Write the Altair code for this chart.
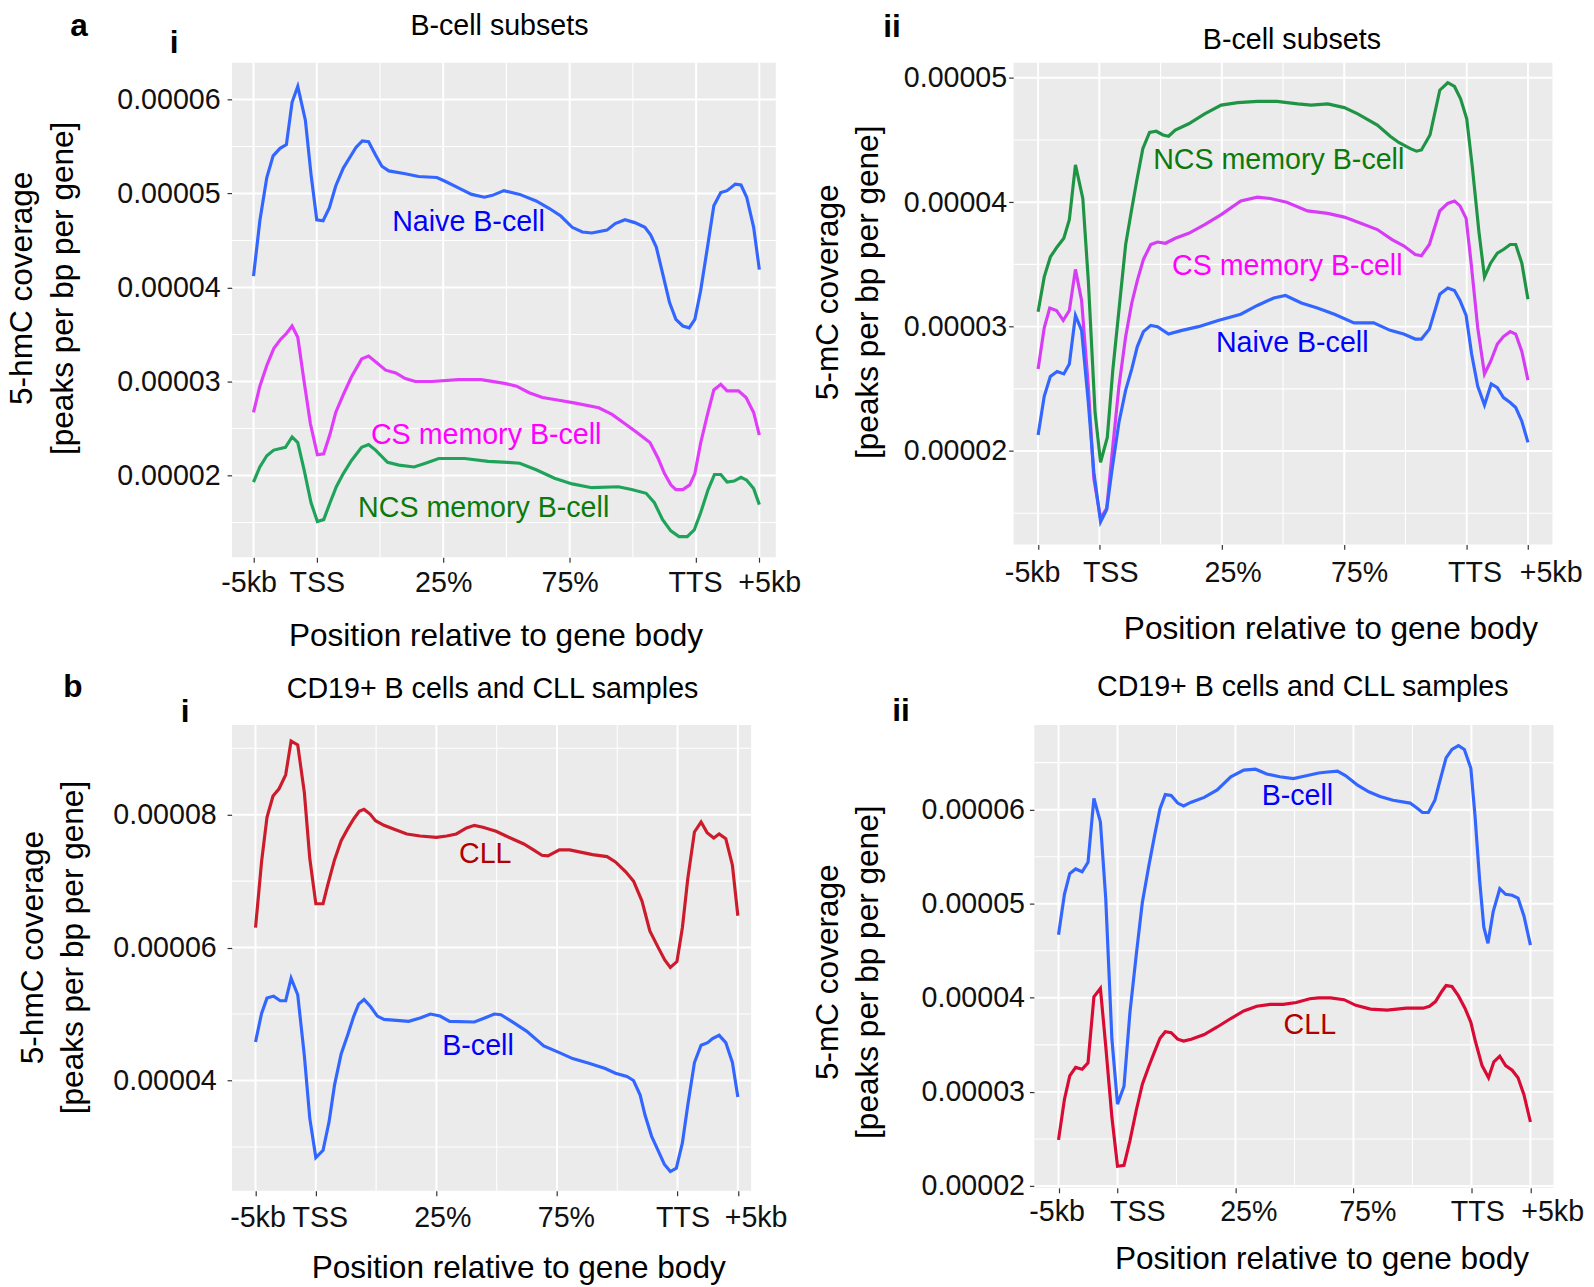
import altair as alt
import pandas as pd

FONT = "Liberation Sans"
SCALE = 1e-5  # values below are in units of 1e-5

x_ticks = [0, 10, 30, 50, 70, 80]
x_tick_labels = ["-5kb", "TSS", "25%", "75%", "TTS", "+5kb"]
x_minor = [20, 40, 60]
x_title = "Position relative to gene body"

# ---------------- panel a-i (5-hmC, B-cell subsets) ----------------
ai_naive_x = [0, 1, 2.1, 3.1, 4.2, 5.2, 6.1, 7.0, 8.2, 9.1, 10, 11, 12, 13, 14.2, 15.2, 16.2, 17.2, 18.2, 19.3, 20.3, 21.4, 24, 26.1, 29, 30.3, 32.4, 34.5, 36.5, 37.8, 39.6, 42.1, 44.7, 46.8, 48.6, 50.4, 52, 53.5, 55.9, 57.2, 58.75, 60.3, 61.9, 62.8, 63.7, 64.7, 65.8, 66.8, 67.9, 68.9, 69.8, 70.7, 71.8, 72.8, 73.9, 74.9, 76.2, 77.1, 78.0, 79.1, 80]
ai_naive_y = [4.12, 4.71, 5.17, 5.40, 5.48, 5.52, 5.97, 6.14, 5.78, 5.20, 4.72, 4.71, 4.85, 5.08, 5.27, 5.38, 5.49, 5.56, 5.55, 5.41, 5.29, 5.24, 5.21, 5.18, 5.17, 5.13, 5.06, 4.99, 4.96, 4.98, 5.03, 4.99, 4.92, 4.84, 4.76, 4.64, 4.59, 4.58, 4.61, 4.68, 4.72, 4.69, 4.64, 4.56, 4.43, 4.15, 3.84, 3.66, 3.59, 3.57, 3.66, 3.96, 4.43, 4.87, 5.01, 5.03, 5.10, 5.09, 4.96, 4.64, 4.19]
ai_cs_x = [0, 1, 2.1, 3.2, 4.3, 5.2, 6.1, 7.0, 8.0, 9.0, 10.1, 11.1, 12.1, 13, 14.2, 15.5, 17.1, 18.2, 19.3, 20.9, 22.5, 24, 25.6, 28.2, 32.4, 36, 39.7, 41.6, 43.6, 45.7, 48.3, 50.9, 54.6, 56.7, 58.75, 60.8, 62.7, 64, 65, 66, 66.8, 67.9, 69, 69.8, 70.7, 71.8, 72.8, 73.9, 74.9, 76.7, 77.9, 79.1, 80]
ai_cs_y = [2.67, 2.95, 3.17, 3.35, 3.45, 3.51, 3.59, 3.47, 3.00, 2.55, 2.22, 2.23, 2.44, 2.67, 2.86, 3.05, 3.24, 3.27, 3.21, 3.12, 3.09, 3.03, 3.00, 3.00, 3.02, 3.02, 2.98, 2.95, 2.88, 2.83, 2.80, 2.77, 2.72, 2.65, 2.55, 2.45, 2.35, 2.18, 2.02, 1.90, 1.85, 1.85, 1.90, 2.02, 2.34, 2.65, 2.91, 2.97, 2.90, 2.90, 2.83, 2.67, 2.43]
ai_ncs_x = [0, 1, 2.1, 3.2, 5.05, 6.1, 7.0, 8.0, 9.1, 10.1, 11.1, 12.1, 13.1, 14.2, 15.5, 17.1, 18.2, 19.3, 21.2, 23, 25.4, 27.2, 29.3, 33.4, 37.1, 40.2, 42.1, 44.7, 47.6, 50.4, 53.5, 57.7, 59.8, 62.1, 63.4, 64.7, 66, 67.3, 68.6, 69.7, 70.7, 71.9, 72.9, 73.9, 74.9, 76, 77.1, 78, 79.1, 80]
ai_ncs_y = [1.93, 2.09, 2.21, 2.27, 2.30, 2.41, 2.35, 2.06, 1.71, 1.51, 1.53, 1.71, 1.88, 2.02, 2.16, 2.30, 2.33, 2.27, 2.14, 2.11, 2.09, 2.13, 2.18, 2.18, 2.15, 2.14, 2.13, 2.06, 1.97, 1.91, 1.87, 1.88, 1.85, 1.81, 1.71, 1.53, 1.41, 1.35, 1.35, 1.42, 1.60, 1.85, 2.01, 2.01, 1.93, 1.94, 1.98, 1.95, 1.86, 1.69]

# ---------------- panel a-ii (5-mC, B-cell subsets) ----------------
aii_ncs_x = [0, 1, 2, 3.1, 4.2, 5.1, 6.1, 7.3, 8.2, 9.3, 10.2, 11.3, 12.2, 13.3, 14.3, 15.2, 16.1, 17.1, 18.2, 19.3, 20.4, 21.3, 22.4, 24.6, 27.2, 29.9, 32.6, 35.8, 39, 42.4, 44.6, 47.3, 50, 52.2, 55.4, 57.5, 58.9, 60.8, 61.8, 62.6, 64, 65.6, 66.9, 68, 69, 70, 70.9, 72, 72.9, 73.9, 75, 76, 77.1, 78, 79, 80]
aii_ncs_y = [3.12, 3.40, 3.56, 3.64, 3.71, 3.86, 4.30, 4.03, 3.37, 2.31, 1.91, 2.11, 2.65, 3.18, 3.66, 3.92, 4.17, 4.43, 4.56, 4.57, 4.54, 4.53, 4.58, 4.63, 4.71, 4.78, 4.80, 4.81, 4.81, 4.79, 4.78, 4.79, 4.76, 4.71, 4.62, 4.53, 4.48, 4.43, 4.41, 4.42, 4.54, 4.90, 4.96, 4.93, 4.83, 4.67, 4.29, 3.76, 3.40, 3.51, 3.59, 3.62, 3.66, 3.66, 3.51, 3.22]
aii_cs_x = [0, 1, 1.9, 3.0, 4.1, 5.1, 6.1, 7.1, 8.2, 9.1, 10.2, 11.2, 12.1, 13.2, 14.3, 15.3, 16.2, 17.2, 18.4, 19.5, 20.8, 22.4, 24.6, 27.2, 29.9, 33.1, 35.8, 37.9, 40.6, 44, 47.3, 50, 52.7, 55.4, 57.8, 59.7, 61.6, 62.6, 63.9, 65.6, 66.9, 68, 68.9, 69.9, 70.7, 71.8, 72.9, 73.9, 75, 76, 77.1, 78, 79, 80]
aii_cs_y = [2.66, 2.99, 3.15, 3.13, 3.05, 3.13, 3.46, 3.21, 2.52, 1.78, 1.46, 1.54, 1.99, 2.52, 2.92, 3.19, 3.37, 3.54, 3.66, 3.68, 3.67, 3.71, 3.75, 3.82, 3.90, 4.01, 4.04, 4.03, 4.00, 3.93, 3.91, 3.88, 3.83, 3.78, 3.70, 3.65, 3.58, 3.57, 3.66, 3.93, 3.99, 4.01, 3.97, 3.87, 3.52, 2.99, 2.62, 2.72, 2.86, 2.92, 2.96, 2.94, 2.80, 2.57]
aii_naive_x = [0, 1, 2, 3.1, 4.2, 5.1, 6.1, 7.1, 8.2, 9.1, 10.2, 11.2, 12.1, 13.2, 14.3, 15.3, 16.2, 17.2, 18.4, 19.5, 21.3, 23.5, 26.2, 29.4, 33.1, 35.8, 38.5, 40.4, 43, 45.6, 48.4, 51.6, 54.8, 57.5, 59.7, 61.6, 62.6, 63.9, 65.6, 66.9, 68, 68.9, 69.9, 70.8, 71.8, 72.9, 74, 75, 76, 77.1, 78, 79, 80]
aii_naive_y = [2.13, 2.44, 2.60, 2.64, 2.62, 2.70, 3.09, 2.97, 2.39, 1.83, 1.43, 1.53, 1.86, 2.23, 2.49, 2.66, 2.84, 2.96, 3.01, 3.00, 2.94, 2.97, 3.00, 3.05, 3.10, 3.17, 3.23, 3.25, 3.19, 3.15, 3.10, 3.03, 3.03, 2.97, 2.94, 2.90, 2.90, 2.98, 3.26, 3.31, 3.29, 3.21, 3.09, 2.78, 2.52, 2.37, 2.54, 2.51, 2.43, 2.39, 2.35, 2.24, 2.07]

# ---------------- panel b-i (5-hmC, CD19+ B cells and CLL) ----------------
bi_cll_x = [0, 1, 1.9, 2.9, 3.9, 5.0, 5.9, 7.0, 8.1, 9.0, 10, 11.2, 12, 13.1, 14.2, 15.3, 16.3, 17.2, 18, 19, 19.9, 21.3, 23, 25.1, 27.3, 30, 31.7, 33.3, 35, 36.3, 37.7, 39.9, 42, 44.5, 46.1, 47.5, 48.5, 50.4, 52.1, 53.7, 55.9, 58.3, 59.7, 61.4, 62.7, 64.1, 65.4, 66.8, 67.9, 68.8, 69.9, 70.8, 71.7, 72.8, 73.9, 74.9, 76, 76.9, 78, 79.1, 80]
bi_cll_y = [6.30, 7.29, 7.96, 8.28, 8.39, 8.60, 9.11, 9.05, 8.33, 7.34, 6.66, 6.66, 6.95, 7.32, 7.61, 7.79, 7.94, 8.05, 8.08, 8.01, 7.91, 7.84, 7.78, 7.71, 7.68, 7.66, 7.68, 7.71, 7.80, 7.84, 7.81, 7.75, 7.66, 7.56, 7.47, 7.39, 7.38, 7.47, 7.47, 7.44, 7.40, 7.37, 7.29, 7.14, 7.00, 6.70, 6.25, 6.00, 5.81, 5.70, 5.79, 6.30, 7.04, 7.74, 7.89, 7.73, 7.65, 7.71, 7.64, 7.24, 6.48]
bi_bcell_x = [0, 1, 1.9, 3.0, 4.1, 5.0, 5.9, 7.0, 8.1, 9.0, 10, 11.2, 12.2, 13.1, 14.2, 15.3, 16.3, 17.1, 18, 19.1, 20.2, 21.3, 25.4, 27.3, 29, 30.6, 32.2, 36.3, 38, 39.6, 40.7, 42.8, 45, 47.8, 50.4, 52.6, 55.3, 58, 59.7, 61.6, 62.7, 63.8, 64.6, 65.7, 66.8, 67.8, 68.8, 69.8, 70.8, 71.7, 72.8, 73.9, 75, 75.8, 76.9, 78, 79.1, 80]
bi_bcell_y = [4.58, 5.01, 5.24, 5.27, 5.20, 5.20, 5.54, 5.29, 4.37, 3.43, 2.84, 2.95, 3.38, 3.93, 4.40, 4.69, 4.97, 5.15, 5.22, 5.11, 4.97, 4.92, 4.89, 4.94, 5.00, 4.97, 4.89, 4.88, 4.94, 5.00, 4.99, 4.87, 4.74, 4.52, 4.42, 4.33, 4.26, 4.18, 4.11, 4.06, 4.00, 3.78, 3.48, 3.16, 2.94, 2.74, 2.63, 2.68, 3.06, 3.63, 4.27, 4.53, 4.57, 4.63, 4.68, 4.57, 4.27, 3.75]

# ---------------- panel b-ii (5-mC, CD19+ B cells and CLL) ----------------
bii_bcell_x = [0, 1, 1.9, 2.9, 4.0, 5.0, 6.0, 7.1, 8.0, 9.05, 10, 11.1, 12.1, 13.2, 14.2, 15.3, 16.3, 17.2, 18.1, 19.1, 20.2, 21.2, 22.5, 24.7, 26.9, 29.2, 31.4, 33.4, 35.3, 37.5, 39.8, 42, 44.1, 45.6, 47.3, 48.7, 50.7, 52.6, 54.5, 56.7, 59.6, 60.7, 61.7, 62.7, 63.8, 64.8, 65.7, 66.7, 67.8, 68.8, 69.9, 70.6, 71.4, 72.1, 72.8, 73.7, 74.8, 75.8, 76.9, 77.9, 78.9, 80]
bii_bcell_y = [4.67, 5.10, 5.32, 5.37, 5.34, 5.44, 6.12, 5.87, 5.06, 3.56, 2.87, 3.06, 3.84, 4.47, 5.01, 5.40, 5.73, 6.01, 6.16, 6.15, 6.07, 6.04, 6.08, 6.13, 6.21, 6.35, 6.42, 6.43, 6.38, 6.35, 6.33, 6.36, 6.39, 6.40, 6.41, 6.36, 6.26, 6.19, 6.14, 6.10, 6.07, 6.02, 5.97, 5.97, 6.10, 6.34, 6.55, 6.64, 6.68, 6.64, 6.44, 5.94, 5.24, 4.75, 4.58, 4.92, 5.16, 5.10, 5.09, 5.06, 4.87, 4.56]
bii_cll_x = [0, 1, 1.9, 2.9, 4.0, 5.0, 6.0, 7.1, 8.0, 9.05, 10, 11.1, 12.1, 13.2, 14.2, 15.3, 16.3, 17.2, 18.1, 19.1, 20.2, 21.2, 22.5, 24.7, 26.9, 29.2, 31.4, 33.6, 35.9, 38.1, 40.3, 42.6, 44.1, 46.1, 48.4, 50.4, 52.9, 55.7, 59, 61.8, 62.9, 63.9, 65, 65.7, 66.7, 67.8, 68.9, 69.9, 70.7, 71.8, 72.9, 73.8, 74.8, 75.8, 76.9, 77.9, 78.9, 80]
bii_cll_y = [2.49, 2.92, 3.17, 3.26, 3.24, 3.31, 4.01, 4.10, 3.49, 2.73, 2.21, 2.22, 2.48, 2.81, 3.08, 3.27, 3.43, 3.57, 3.64, 3.63, 3.56, 3.54, 3.56, 3.61, 3.69, 3.78, 3.86, 3.91, 3.93, 3.93, 3.95, 3.99, 4.00, 4.00, 3.98, 3.92, 3.88, 3.87, 3.89, 3.89, 3.91, 3.96, 4.07, 4.13, 4.12, 4.02, 3.89, 3.74, 3.53, 3.28, 3.15, 3.32, 3.38, 3.28, 3.23, 3.15, 2.97, 2.68]

LABEL_EXPR = "".join(f"datum.value == {v} ? '{l}' : " for v, l in zip(x_ticks, x_tick_labels)) + "''"


def offset_expr(offsets):
    return {"expr": "".join(f"datum.value == {v} ? {o} : " for v, o in zip(x_ticks, offsets)) + "0"}


def build_panel(series, labels, letters, title, title_pos, xdom, ydom, yticks, yminor, ytitle,
                W, H, y_ext, y_lpad, y_tpad, y_titleY, x_lpad, x_tpad, x_titleX, x_offsets):
    xs = alt.Scale(domain=xdom, nice=False, zero=False)
    ys = alt.Scale(domain=[ydom[0] * SCALE, ydom[1] * SCALE], nice=False, zero=False)
    xaxis = alt.Axis(values=x_ticks, labelExpr=LABEL_EXPR, title=x_title, grid=False,
                     domain=False, tickColor="#333333", tickSize=5, tickWidth=1.2,
                     labelFont=FONT, labelFontSize=29, labelColor="#111111",
                     labelPadding=x_lpad, labelFlush=False, labelOverlap=False,
                     labelOffset=offset_expr(x_offsets),
                     titleFont=FONT, titleFontSize=32, titleFontWeight="normal",
                     titleColor="black", titlePadding=x_tpad, titleX=x_titleX)
    yaxis = alt.Axis(values=[v * SCALE for v in yticks], format=".5f", title=ytitle,
                     grid=False, domain=False, tickColor="#333333", tickSize=5,
                     tickWidth=1.2, labelFont=FONT, labelFontSize=29,
                     labelColor="#111111", labelPadding=y_lpad, labelFlush=False,
                     labelOverlap=False, minExtent=y_ext, maxExtent=y_ext,
                     titleFont=FONT, titleFontSize=32, titleFontWeight="normal",
                     titleColor="black", titlePadding=y_tpad, titleLineHeight=41,
                     titleY=y_titleY)
    X = alt.X("x:Q", scale=xs, axis=xaxis)
    Y = alt.Y("y:Q", scale=ys, axis=yaxis)

    layers = [
        alt.Chart(pd.DataFrame({"x": x_ticks})).mark_rule(color="white", strokeWidth=2).encode(x=X),
        alt.Chart(pd.DataFrame({"x": x_minor})).mark_rule(color="white", strokeWidth=1.1).encode(x=X),
        alt.Chart(pd.DataFrame({"y": [v * SCALE for v in yticks]})).mark_rule(color="white", strokeWidth=2).encode(y=Y),
        alt.Chart(pd.DataFrame({"y": [v * SCALE for v in yminor]})).mark_rule(color="white", strokeWidth=1.1).encode(y=Y),
    ]
    for name, xv, yv, col in series:
        df = pd.DataFrame({"x": xv, "y": [v * SCALE for v in yv], "series": name})
        layers.append(alt.Chart(df).mark_line(strokeWidth=3.2, color=col).encode(x=X, y=Y))
    for text, lx, ly, col in labels:
        layers.append(
            alt.Chart(pd.DataFrame({"x": [lx], "y": [ly * SCALE], "t": [text]}))
            .mark_text(font=FONT, fontSize=29, color=col)
            .encode(x=X, y=Y, text="t:N")
        )
    # panel title
    layers.append(
        alt.Chart(pd.DataFrame({"t": [title]}))
        .mark_text(font=FONT, fontSize=29, align="center", baseline="alphabetic", color="black")
        .encode(x=alt.value(title_pos[0]), y=alt.value(title_pos[1]), text="t:N")
    )
    # panel letters
    for text, px, py in letters:
        layers.append(
            alt.Chart(pd.DataFrame({"t": [text]}))
            .mark_text(font=FONT, fontSize=32, fontWeight="bold", align="left",
                       baseline="alphabetic", color="black")
            .encode(x=alt.value(px), y=alt.value(py), text="t:N")
        )
    return alt.layer(*layers).properties(width=W, height=H)


BLUE_LINE = "#3366FF"
ai = build_panel(
    series=[("Naive B-cell", ai_naive_x, ai_naive_y, BLUE_LINE),
            ("CS memory B-cell", ai_cs_x, ai_cs_y, "#E03CFA"),
            ("NCS memory B-cell", ai_ncs_x, ai_ncs_y, "#1FA35B")],
    labels=[("Naive B-cell", 34.0, 4.70, "#0000FF"),
            ("CS memory B-cell", 36.8, 2.43, "#FF00FF"),
            ("NCS memory B-cell", 36.4, 1.65, "#0B7A0B")],
    letters=[("a", -164, -27), ("i", -63, -10)],
    title="B-cell subsets", title_pos=(271, -28),
    xdom=[-3.4, 82.6], ydom=[1.13, 6.39], yticks=[2, 3, 4, 5, 6], yminor=[1.5, 2.5, 3.5, 4.5, 5.5],
    ytitle=["5-hmC coverage", "[peaks per bp per gene]"],
    W=551, H=501, y_ext=117, y_lpad=7, y_tpad=38, y_titleY=228,
    x_lpad=6.5, x_tpad=23.6, x_titleX=267, x_offsets=[-5, 0, 0, 0, -1, 10],
)
aii = build_panel(
    series=[("NCS memory B-cell", aii_ncs_x, aii_ncs_y, "#1E9444"),
            ("CS memory B-cell", aii_cs_x, aii_cs_y, "#D63CF5"),
            ("Naive B-cell", aii_naive_x, aii_naive_y, BLUE_LINE)],
    labels=[("NCS memory B-cell", 39.3, 4.34, "#0B7A0B"),
            ("CS memory B-cell", 40.7, 3.49, "#FF00FF"),
            ("Naive B-cell", 41.5, 2.87, "#0000FF")],
    letters=[("ii", -132, -26)],
    title="B-cell subsets", title_pos=(282, -14),
    xdom=[-4, 84], ydom=[1.25, 5.12], yticks=[2, 3, 4, 5], yminor=[1.5, 2.5, 3.5, 4.5],
    ytitle=["5-mC coverage", "[peaks per bp per gene]"],
    W=546, H=488, y_ext=111.5, y_lpad=2, y_tpad=19, y_titleY=232,
    x_lpad=9.5, x_tpad=26.6, x_titleX=321, x_offsets=[-6, 11, 11, 15, 8, 23],
)
bi = build_panel(
    series=[("CLL", bi_cll_x, bi_cll_y, "#CC1C2C"),
            ("B-cell", bi_bcell_x, bi_bcell_y, BLUE_LINE)],
    labels=[("CLL", 38.1, 7.40, "#B00000"),
            ("B-cell", 36.9, 4.52, "#0000FF")],
    letters=[("b", -171, -28), ("i", -52, -3)],
    title="CD19+ B cells and CLL samples", title_pos=(264, -27),
    xdom=[-3.9, 82.2], ydom=[2.34, 9.35], yticks=[4, 6, 8], yminor=[3, 5, 7, 9],
    ytitle=["5-hmC coverage", "[peaks per bp per gene]"],
    W=526, H=472, y_ext=121, y_lpad=11, y_tpad=23, y_titleY=225,
    x_lpad=7.9, x_tpad=20.6, x_titleX=290, x_offsets=[2, 4, 6, 9, 5, 18],
)
bii = build_panel(
    series=[("B-cell", bii_bcell_x, bii_bcell_y, BLUE_LINE),
            ("CLL", bii_cll_x, bii_cll_y, "#D90A33")],
    labels=[("B-cell", 40.5, 6.14, "#0000FF"),
            ("CLL", 42.6, 3.71, "#B00000")],
    letters=[("ii", -144, -4)],
    title="CD19+ B cells and CLL samples", title_pos=(272, -29),
    xdom=[-4.1, 83.9], ydom=[1.98, 6.90], yticks=[2, 3, 4, 5, 6], yminor=[2.5, 3.5, 4.5, 5.5, 6.5],
    ytitle=["5-mC coverage", "[peaks per bp per gene]"],
    W=526, H=469, y_ext=115, y_lpad=5, y_tpad=36.5, y_titleY=250,
    x_lpad=5.5, x_tpad=17, x_titleX=291, x_offsets=[-2, 20, 13, 14, 6, 22],
)

chart = (
    alt.concat(ai, aii, bi, bii, columns=2, spacing={"row": 20, "column": 10},
               align={"row": "each", "column": "none"})
    .properties(padding={"left": -2, "top": -6, "right": 2, "bottom": 0})
    .configure(background="white")
    .configure_view(fill="#EBEBEB", stroke=None)
)
chart.save("out.html", embed_options={"renderer": "svg", "actions": False})
